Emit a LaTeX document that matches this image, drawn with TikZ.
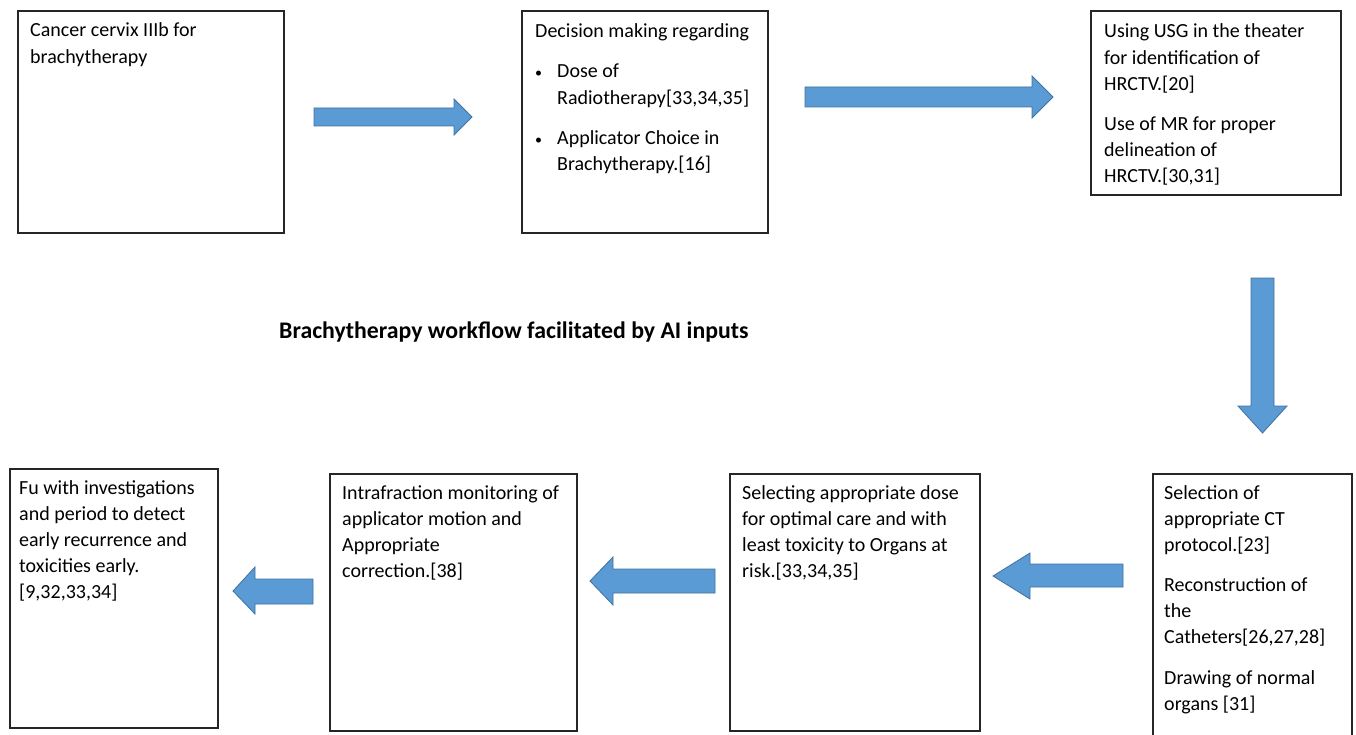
\documentclass[tikz,border=0pt]{standalone}
\usepackage{fontspec}
\setmainfont{Carlito}
\definecolor{boxc}{HTML}{262626}
\definecolor{arrfill}{HTML}{5B9BD5}
\definecolor{arrdraw}{HTML}{41719C}
\begin{document}
\begin{tikzpicture}[x=1pt,y=-1pt,
  box/.style={draw=boxc, line width=1.3pt, fill=white, anchor=north west, inner sep=0pt, outer sep=0pt},
  txt/.style={anchor=north west, inner sep=0pt, align=left, font=\fontsize{20}{26.1}\selectfont},
  bul/.style={anchor=north west, inner sep=0pt, font=\fontsize{20}{26.1}\selectfont},
  blockarrow/.style={fill=arrfill, draw=arrdraw, line width=0.8pt, line join=miter}]
\useasboundingbox (0,0) rectangle (1356,735);
% boxes
\node[box, minimum width=266pt, minimum height=222pt] (b1) at (18,11) {};
\node[box, minimum width=246pt, minimum height=222pt] (b2) at (522,11) {};
\node[box, minimum width=250pt, minimum height=184pt] (b3) at (1091,11) {};
\node[box, minimum width=199pt, minimum height=280pt] (b4) at (1153,474) {};
\node[box, minimum width=250pt, minimum height=257pt] (b5) at (730,474) {};
\node[box, minimum width=247pt, minimum height=257pt] (b6) at (330,474) {};
\node[box, minimum width=208pt, minimum height=259pt] (b7) at (10,469) {};
% texts
\node[txt] (t1) at (30,18.5) {\strut Cancer cervix IIIb for\\brachytherapy};
\node[txt] (t2) at (535,19) {\strut Decision making regarding};
\node[bul] (t2a) at (533,59.5) {\strut\hspace*{2pt}{\fontsize{14}{14}\selectfont\textbullet}};
\node[txt] (t2b) at (557,59.5) {\strut Dose of\\Radiotherapy[33,34,35]};
\node[bul] (t2c) at (533,126) {\strut\hspace*{2pt}{\fontsize{14}{14}\selectfont\textbullet}};
\node[txt] (t2d) at (557,126) {\strut Applicator Choice in\\Brachytherapy.[16]};
\node[txt] (t3) at (1104,19.5) {\strut Using USG in the theater\\for identification of\\HRCTV.[20]\\[14pt]Use of MR for proper\\delineation of\\HRCTV.[30,31]};
\node[txt] (t4) at (1164,481) {\strut Selection of\\appropriate CT\\protocol.[23]\\[14pt]Reconstruction of\\the\\Catheters[26,27,28]\\[14.5pt]Drawing of normal\\organs [31]};
\node[txt] (t5) at (742,481) {\strut Selecting appropriate dose\\for optimal care and with\\least toxicity to Organs at\\risk.[33,34,35]};
\node[txt] (t6) at (342,481) {\strut Intrafraction monitoring of\\applicator motion and\\Appropriate\\correction.[38]};
\node[txt] (t7) at (19,476) {\strut Fu with investigations\\and period to detect\\early recurrence and\\toxicities early.\\{}[9,32,33,34]};
\node[font=\bfseries\fontsize{23.8}{28}\selectfont, anchor=base west, inner sep=0pt] (title) at (279,338) {Brachytherapy workflow facilitated by AI inputs};
% block arrows
\draw[blockarrow] (314,108) -- (454,108) -- (454,99) -- (472,117) -- (454,135) -- (454,126) -- (314,126) -- cycle;
\draw[blockarrow] (805,87) -- (1032,87) -- (1032,76) -- (1053,97) -- (1032,118) -- (1032,107) -- (805,107) -- cycle;
\draw[blockarrow] (1251,278) -- (1274,278) -- (1274,406) -- (1287,406) -- (1262.5,433) -- (1238,406) -- (1251,406) -- cycle;
\draw[blockarrow] (1123,564) -- (1030,564) -- (1030,553) -- (993,576) -- (1030,599) -- (1030,587) -- (1123,587) -- cycle;
\draw[blockarrow] (715,569) -- (613,569) -- (613,557) -- (590,581) -- (613,605) -- (613,593) -- (715,593) -- cycle;
\draw[blockarrow] (313,579) -- (255,579) -- (255,567) -- (233,591) -- (255,614) -- (255,604) -- (313,604) -- cycle;
\end{tikzpicture}
\end{document}
